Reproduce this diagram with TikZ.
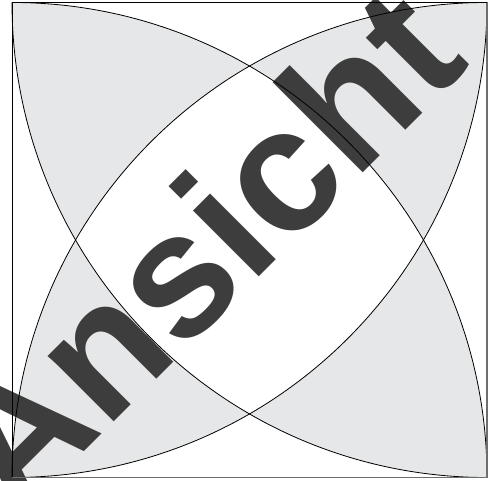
\documentclass[tikz,border=0pt]{standalone}
\usepackage{fontspec}
\setmainfont{Liberation Sans}
\definecolor{lensgray}{HTML}{E6E7E8}
\definecolor{textgray}{HTML}{3D3D3D}
\definecolor{shadowgray}{HTML}{6E6E6E}
\begin{document}
\begin{tikzpicture}[x=1pt,y=1pt,
  arcline/.style={black,line width=0.8pt},
  frameline/.style={black,line width=0.8pt},
  shadowline/.style={shadowgray,line width=1.8pt},
  watermark/.style={text=textgray,font=\fontsize{176}{176}\selectfont\bfseries,rotate=45,anchor=base,inner sep=0pt}]
\useasboundingbox (0,0) rectangle (493,481);
\clip (0,0) rectangle (493,481);
\coordinate (BL) at (12,3.5);
\coordinate (TL) at (12,478.5);
\coordinate (TR) at (487,478.5);
\coordinate (BR) at (487,3.5);
% lenses, even-odd filled
\fill[lensgray,even odd rule]
  (TL) arc[start angle=90,end angle=0,radius=475pt] arc[start angle=270,end angle=180,radius=475pt] -- cycle
  (BL) arc[start angle=-90,end angle=0,radius=475pt] arc[start angle=90,end angle=180,radius=475pt] -- cycle;
% watermark text
\node[watermark] (wm) at (244,188.4) {Ansicht};
% arcs
\draw[arcline] (TL) arc[start angle=90,end angle=0,radius=475pt];
\draw[arcline] (BR) arc[start angle=270,end angle=180,radius=475pt];
\draw[arcline] (BL) arc[start angle=-90,end angle=0,radius=475pt];
\draw[arcline] (TR) arc[start angle=90,end angle=180,radius=475pt];
% frame
\draw[shadowline] (TR) -- (BR) -- (BL);
\draw[frameline] (BL) -- (TL) -- (TR);
\end{tikzpicture}
\end{document}
